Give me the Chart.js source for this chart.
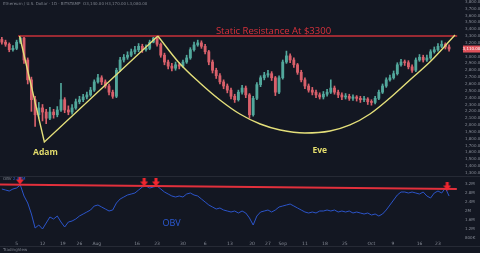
<!DOCTYPE html>
<html>
<head>
<meta charset="utf-8">
<script src="https://cdn.jsdelivr.net/npm/chart.js@4.4.1/dist/chart.umd.min.js"></script>
<style>
  html, body { margin: 0; padding: 0; background: #131722; }
  #wrap { width: 480px; height: 253px; }
</style>
</head>
<body>
<div id="wrap"><canvas id="ethChart" width="480" height="253"></canvas></div>
<script>
/** --------------------DATA-------------------- */

// daily candles (USD)
const opens = [
  3250, 3210, 3180, 3100, 3120, 3210, 3270, 2950, 2660, 2370,
  2150, 2250, 2190, 2100, 2190, 2150, 2220, 2370, 2220, 2190,
  2250, 2340, 2370, 2410, 2440, 2510, 2630, 2690, 2630, 2570,
  2480, 2420, 2800, 2950, 2990, 3020, 3070, 3100, 3150, 3100,
  3120, 3210, 3270, 3180, 3020, 2920, 2860, 2830, 2880, 2860,
  2920, 2980, 3100, 3170, 3200, 3150, 3070, 2920, 2800, 2720,
  2630, 2570, 2510, 2420, 2370, 2480, 2540, 2440, 2150, 2390,
  2590, 2690, 2730, 2750, 2690, 2480, 2690, 2920, 3010, 2950,
  2880, 2770, 2660, 2570, 2510, 2480, 2440, 2410, 2450, 2480,
  2540, 2480, 2440, 2410, 2420, 2390, 2410, 2390, 2370, 2380,
  2340, 2330, 2390, 2480, 2570, 2660, 2690, 2750, 2880, 2920,
  2910, 2850, 2800, 2950, 2990, 2950, 2980, 3070, 3100, 3150,
  3180, 3140
];
const closes = [
  3210, 3180, 3100, 3120, 3210, 3270, 2950, 2660, 2370, 2150,
  2250, 2190, 2100, 2190, 2150, 2220, 2370, 2220, 2190, 2250,
  2340, 2370, 2410, 2440, 2510, 2630, 2690, 2630, 2570, 2480,
  2420, 2800, 2950, 2990, 3020, 3070, 3100, 3150, 3100, 3120,
  3210, 3270, 3180, 3020, 2920, 2860, 2830, 2880, 2860, 2920,
  2980, 3100, 3170, 3200, 3150, 3070, 2920, 2800, 2720, 2630,
  2570, 2510, 2420, 2370, 2480, 2540, 2440, 2150, 2390, 2590,
  2690, 2730, 2750, 2690, 2480, 2690, 2920, 3010, 2950, 2880,
  2770, 2660, 2570, 2510, 2480, 2440, 2410, 2450, 2480, 2540,
  2480, 2440, 2410, 2420, 2390, 2410, 2390, 2370, 2380, 2340,
  2330, 2390, 2480, 2570, 2660, 2690, 2750, 2880, 2920, 2910,
  2850, 2800, 2950, 2990, 2950, 2980, 3070, 3100, 3150, 3180,
  3140, 3110
];
const highs = [
  3280, 3240, 3200, 3160, 3240, 3300, 3290, 2980, 2700, 2420,
  2330, 2300, 2230, 2260, 2230, 2270, 2610, 2400, 2280, 2300,
  2380, 2420, 2450, 2480, 2550, 2660, 2740, 2720, 2660, 2600,
  2510, 2830, 2990, 3030, 3070, 3110, 3150, 3190, 3180, 3170,
  3240, 3300, 3300, 3200, 3050, 2950, 2900, 2920, 2910, 2950,
  3020, 3130, 3210, 3240, 3230, 3180, 3090, 2950, 2830, 2750,
  2660, 2600, 2540, 2450, 2510, 2580, 2570, 2460, 2420, 2620,
  2720, 2770, 2800, 2780, 2710, 2720, 2950, 3080, 3040, 2980,
  2900, 2800, 2690, 2600, 2550, 2510, 2470, 2490, 2520, 2660,
  2570, 2510, 2470, 2460, 2450, 2440, 2430, 2420, 2420, 2400,
  2370, 2420, 2510, 2600, 2690, 2730, 2790, 2910, 2960, 2950,
  2940, 2880, 2980, 3030, 3020, 3020, 3100, 3140, 3190, 3230,
  3200, 3170
];
const lows = [
  3180, 3150, 3070, 3080, 3100, 3190, 2900, 2600, 2200, 1980,
  2100, 2060, 2020, 2080, 2100, 2120, 2200, 2180, 2150, 2160,
  2230, 2310, 2340, 2380, 2420, 2490, 2610, 2590, 2540, 2440,
  2390, 2400, 2780, 2920, 2960, 3000, 3040, 3070, 3060, 3080,
  3100, 3200, 3150, 2990, 2880, 2820, 2790, 2800, 2820, 2840,
  2900, 2960, 3080, 3150, 3120, 3040, 2880, 2760, 2680, 2600,
  2530, 2470, 2380, 2330, 2350, 2450, 2400, 2100, 2130, 2370,
  2560, 2660, 2700, 2650, 2430, 2460, 2670, 2900, 2910, 2840,
  2740, 2630, 2530, 2480, 2440, 2400, 2380, 2380, 2420, 2460,
  2450, 2400, 2370, 2380, 2360, 2360, 2350, 2330, 2340, 2300,
  2290, 2310, 2370, 2460, 2550, 2640, 2670, 2730, 2860, 2870,
  2820, 2770, 2780, 2930, 2920, 2930, 2960, 3050, 3080, 3130,
  3110, 3080
];

// on-balance volume (pane units)
const obvValues = [
  48, 47, 46, 48, 49, 52, 41, 34, 23, 9,
  12, 8, 14, 20, 18, 21, 15, 10, 15, 16,
  18, 21, 23, 25, 27, 31, 32, 30, 28, 26,
  27, 34, 38, 40, 42, 43, 44, 47, 50, 51,
  49, 50, 51, 48, 45, 43, 41, 40, 41, 40,
  43, 44, 42, 41, 38, 35, 32, 30, 28, 29,
  27, 26, 25, 26, 24, 26, 24, 19, 12, 21,
  25, 26, 27, 25, 27, 30, 31, 32, 33, 31,
  29, 27, 25, 24, 25, 24, 26, 26, 27, 26,
  27, 25, 26, 25, 26, 24, 25, 24, 23, 24,
  22, 23, 21, 23, 27, 32, 37, 42, 45, 45,
  44, 45, 44, 43, 45, 41, 39, 44, 46, 44,
  49, 41
];

// drawn studies
const resistancePrice = 3300;
const resistanceSpan = [4.4, 123.2];
const adamIdx = [4.8, 11.5, 42.2];
const adamPrice = [3300, 1752, 3300];
const eveIdx = [42.2, 48, 53.6, 59, 64.4, 69.9, 75.3, 82, 88.8, 94.2, 99.6, 105, 110.4, 115.8, 122.6];
const evePrice = [3300, 2906, 2614, 2366, 2161, 2015, 1928, 1884, 1913, 2001, 2161, 2395, 2658, 2920, 3315];
const obvLineIdx = [-0.5, 123.1];
const obvLineVal = [52.5, 48];
const arrowIdx = [4.9, 38.5, 41.7, 120.5];
const arrowVal = [57, 55, 55, 51];

// axis labels
const priceTicks = [3800, 3700, 3600, 3500, 3400, 3300, 3200, 3100, 3000, 2900, 2800, 2700, 2600,
    2500, 2400, 2300, 2200, 2100, 2000, 1900, 1800, 1700, 1600, 1500, 1400, 1300];
const obvTicks = [53, 44, 35, 26, 17, 8, -1];
const obvTickLabels = ['3.2M', '2.8M', '2.4M', '2M', '1.6M', '1.2M', '800K'];
const xTickPos = [4, 11, 16.5, 21, 25.7, 36.6, 42, 49, 55, 61.7, 67.7, 72, 76, 82, 87.4, 92.8, 100, 105.8, 113, 118];
const xTickLabels = ['5', '12', '19', '26', 'Aug', '16', '23', '30', '6', '13', '20', '27', 'Sep', '11', '18', '25', 'Oct', '9', '16', '23'];

/** --------------------END DATA-------------------- */

const UP = '#52a89c';
const DOWN = '#d9606b';
const TICK = '#868b96';
const AXIS_W = 18;

function candleColor(ctx) {
    let i = ctx.dataIndex;
    return closes[i] >= opens[i] ? UP : DOWN;
}

function makeArrow() {
    let c = document.createElement('canvas');
    c.width = 8;
    c.height = 9;
    let g = c.getContext('2d');
    g.fillStyle = '#f0262f';
    g.beginPath();
    g.moveTo(2.5, 0);
    g.lineTo(5.5, 0);
    g.lineTo(5.5, 4);
    g.lineTo(8, 4);
    g.lineTo(4, 9);
    g.lineTo(0, 4);
    g.lineTo(2.5, 4);
    g.closePath();
    g.fill();
    return c;
}

// no label padding around the panes, the labels may hang over the edges
function noPad(axis) {
    axis.paddingTop = 0;
    axis.paddingBottom = 0;
    axis.paddingLeft = 0;
    axis.paddingRight = 0;
}

function rightAxisFit(axis) {
    axis.width = AXIS_W;
    noPad(axis);
}

const bodies = opens.map((o, i) => ({x: i, y: [o, closes[i]]}));
const wicks = lows.map((l, i) => ({x: i, y: [l, highs[i]]}));
const obvPoints = obvValues.map((v, i) => ({x: i, y: v}));

const decor = {
    id: 'decor',
    beforeDraw(chart) {
        let ctx = chart.ctx;
        ctx.save();
        ctx.fillStyle = '#131722';
        ctx.fillRect(0, 0, chart.width, chart.height);
        ctx.restore();
    },
    afterDraw(chart) {
        let ctx = chart.ctx;
        let sx = chart.scales.x, sy = chart.scales.y, so = chart.scales.y2;
        ctx.save();

        // pane separator and bottom bar
        ctx.strokeStyle = '#262a35';
        ctx.lineWidth = 1;
        ctx.beginPath();
        ctx.moveTo(0, so.top + 0.5);
        ctx.lineTo(chart.width, so.top + 0.5);
        ctx.moveTo(0, 246.5);
        ctx.lineTo(chart.width, 246.5);
        ctx.stroke();

        // labels
        ctx.textAlign = 'center';
        ctx.textBaseline = 'middle';
        ctx.fillStyle = '#d8323c';
        ctx.font = '9.5px "Open Sans"';
        ctx.fillText('Static Resistance At $3300', sx.getPixelForValue(73.5), sy.getPixelForValue(3375));

        ctx.fillStyle = '#e3dc6c';
        ctx.font = 'bold 8.5px "Open Sans"';
        ctx.fillText('Adam', sx.getPixelForValue(11.8), sy.getPixelForValue(1596));
        ctx.fillText('Eve', sx.getPixelForValue(86), sy.getPixelForValue(1621));

        ctx.fillStyle = '#2c5bd6';
        ctx.font = '9px "Open Sans"';
        ctx.fillText('OBV', sx.getPixelForValue(45.9), so.getPixelForValue(14));

        // current price tag
        let last = closes[closes.length - 1];
        let yp = sy.getPixelForValue(last);
        let ax = sy.left;
        ctx.fillStyle = '#df525b';
        ctx.fillRect(ax + 1, yp - 3.5, 17, 7);
        ctx.fillStyle = '#ffffff';
        ctx.font = '4px "DejaVu Sans"';
        ctx.fillText(last.toLocaleString('en-US', {minimumFractionDigits: 2}), ax + 9.5, yp);

        // tiny headers
        ctx.textAlign = 'left';
        ctx.font = '4px "DejaVu Sans"';
        ctx.fillStyle = '#7d828d';
        ctx.fillText('Ethereum / U.S. Dollar · 1D · BITSTAMP  O3,140.00 H3,170.00 L3,080.00', 3, 3.5);
        ctx.fillText('OBV', 3, so.top + 3);
        ctx.fillStyle = '#2c5bd6';
        ctx.fillText('2.07M', 13, so.top + 3);
        ctx.fillStyle = '#7d828d';
        ctx.fillText('TradingView', 3, 250);
        ctx.restore();
    }
};

const ctx = document.getElementById('ethChart').getContext('2d');
const ethChart = new Chart(ctx, {
    type: 'bar',
    data: {
        datasets: [
            {
                label: 'Resistance',
                type: 'line',
                data: resistanceSpan.map(i => ({x: i, y: resistancePrice})),
                borderColor: '#9a2a33',
                borderWidth: 2,
                pointRadius: 0,
                yAxisID: 'y',
                order: 1,
            },
            {
                label: 'Adam',
                type: 'line',
                data: adamIdx.map((i, k) => ({x: i, y: adamPrice[k]})),
                borderColor: '#e4df7a',
                borderWidth: 1.4,
                pointRadius: 0,
                yAxisID: 'y',
                order: 0,
            },
            {
                label: 'Eve',
                type: 'line',
                data: eveIdx.map((i, k) => ({x: i, y: evePrice[k]})),
                borderColor: '#e4df7a',
                borderWidth: 1.4,
                pointRadius: 0,
                cubicInterpolationMode: 'monotone',
                yAxisID: 'y',
                order: 0,
            },
            {
                label: 'Wicks',
                data: wicks,
                backgroundColor: candleColor,
                barThickness: 1,
                grouped: false,
                yAxisID: 'y',
                order: 3,
            },
            {
                label: 'Bodies',
                data: bodies,
                backgroundColor: candleColor,
                barThickness: 2.2,
                grouped: false,
                minBarLength: 1,
                yAxisID: 'y',
                order: 2,
            },
            {
                label: 'OBV resistance',
                type: 'line',
                data: obvLineIdx.map((i, k) => ({x: i, y: obvLineVal[k]})),
                borderColor: '#e2303c',
                borderWidth: 2.2,
                pointRadius: 0,
                yAxisID: 'y2',
                order: 1,
            },
            {
                label: 'OBV',
                type: 'line',
                data: obvPoints,
                borderColor: '#2b54c9',
                borderWidth: 1,
                pointRadius: 0,
                yAxisID: 'y2',
                order: 2,
            },
            {
                label: 'Arrows',
                type: 'line',
                data: arrowIdx.map((i, k) => ({x: i, y: arrowVal[k]})),
                showLine: false,
                pointStyle: makeArrow(),
                pointRadius: 4,
                yAxisID: 'y2',
                order: 0,
            }
        ]
    },
    options: {
        responsive: false,
        animation: false,
        devicePixelRatio: 1,
        layout: {autoPadding: false, padding: {top: 0, left: 0, right: 0, bottom: 6}},
        plugins: {
            legend: {display: false},
            tooltip: {enabled: false},
        },
        scales: {
            x: {
                type: 'linear',
                min: -0.5,
                max: 124.5,
                offset: false,
                grid: {display: false, drawTicks: false, offset: false},
                border: {display: false},
                afterBuildTicks: axis => {
                    axis.ticks = xTickPos.map(v => ({value: v}));
                },
                afterFit: axis => {
                    axis.height = 7;
                    noPad(axis);
                },
                ticks: {
                    autoSkip: false,
                    maxRotation: 0,
                    padding: 1,
                    color: TICK,
                    font: {size: 4.5, family: 'DejaVu Sans'},
                    callback: (v, i) => xTickLabels[i],
                },
            },
            y: {
                position: 'right',
                stack: 'panes',
                stackWeight: 176,
                min: 1256,
                max: 3826,
                grid: {display: false, drawTicks: false},
                border: {display: false},
                afterBuildTicks: axis => {
                    axis.ticks = priceTicks.map(v => ({value: v}));
                },
                afterFit: rightAxisFit,
                ticks: {
                    autoSkip: false,
                    padding: 3,
                    color: TICK,
                    font: {size: 4, family: 'DejaVu Sans'},
                    callback: v => v.toLocaleString('en-US', {minimumFractionDigits: 2}),
                },
            },
            y2: {
                position: 'right',
                stack: 'panes',
                stackWeight: 64,
                min: -3,
                max: 61,
                grid: {display: false, drawTicks: false},
                border: {display: false},
                afterBuildTicks: axis => {
                    axis.ticks = obvTicks.map(v => ({value: v}));
                },
                afterFit: rightAxisFit,
                ticks: {
                    autoSkip: false,
                    padding: 3,
                    color: TICK,
                    font: {size: 4, family: 'DejaVu Sans'},
                    callback: (v, i) => obvTickLabels[i],
                },
            }
        }
    },
    plugins: [decor]
});
</script>
</body>
</html>
